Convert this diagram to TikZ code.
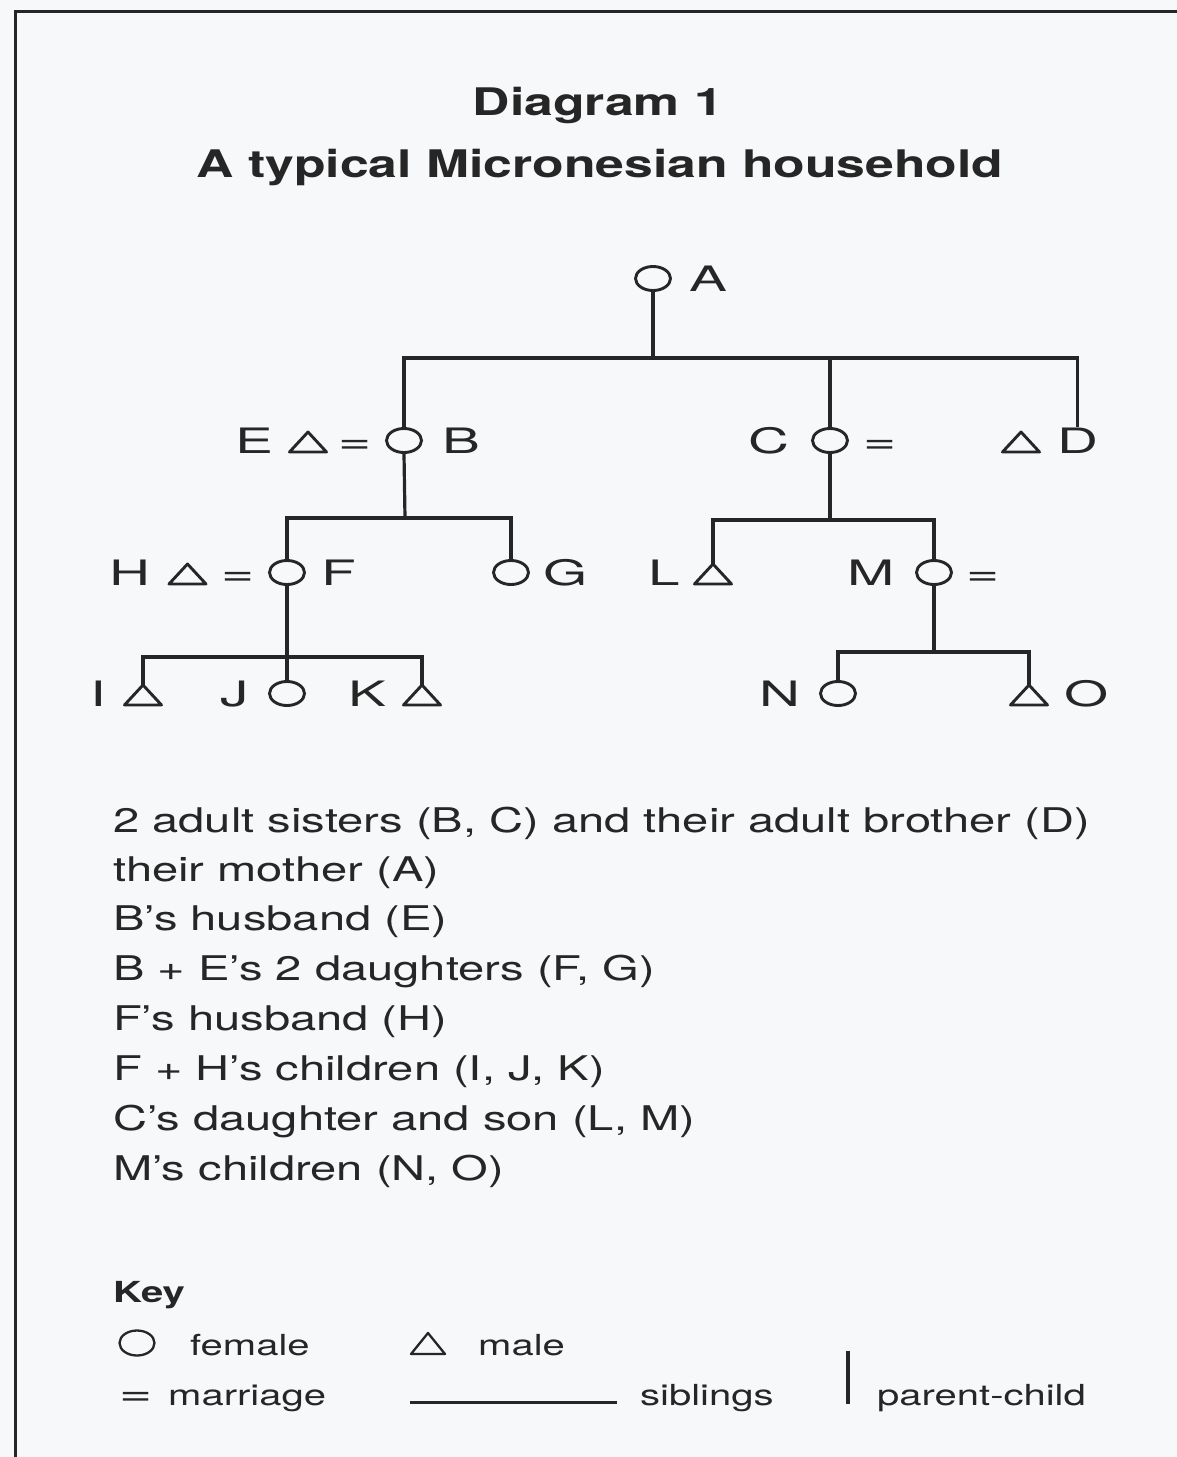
\documentclass[tikz,border=0pt]{standalone}
\usepackage{fontspec}
\setmainfont{TeX Gyre Heros}
\newfontfamily\treefont[FakeStretch=1.62]{TeX Gyre Heros}
\newfontfamily\bodyfont[FakeStretch=1.385]{TeX Gyre Heros}
\newfontfamily\headfont[FakeStretch=1.36]{TeX Gyre Heros}
\newfontfamily\keyfont[FakeStretch=1.38]{TeX Gyre Heros}
\usetikzlibrary{shapes.geometric}

\definecolor{ink}{RGB}{38,38,38}
\definecolor{paper}{RGB}{247,248,250}

\tikzset{
  kin/.style={line width=3.2pt, draw=ink},
  fem/.style={ellipse, draw=ink, line width=2.9pt, minimum width=35pt,
    minimum height=24pt, inner sep=0pt},
  male/.pic={
    \draw[ink, line width=2.9pt, line join=round] (-18.5,9.5) -- (0,-10.5) -- (18.5,9.5) -- cycle;
    \coordinate (-top) at (0,-10.5);
  },
  keyfem/.style={ellipse, draw=ink, line width=2.3pt, minimum width=35pt,
    minimum height=25pt, inner sep=0pt},
  keymale/.pic={
    \draw[ink, line width=2.3pt, line join=round] (-17,10) -- (0,-11) -- (17,10) -- cycle;
    \coordinate (-top) at (0,-11);
  },
  tlab/.style={font=\treefont\fontsize{35}{35}\selectfont, text=ink,
    inner sep=0pt, anchor=base},
  body/.style={font=\bodyfont\fontsize{34}{40}\selectfont, text=ink,
    inner sep=0pt, anchor=base west},
  head/.style={font=\headfont\bfseries\fontsize{38}{44}\selectfont, text=ink,
    inner sep=0pt, anchor=base},
  keytext/.style={font=\keyfont\fontsize{29}{34}\selectfont, text=ink,
    inner sep=0pt, anchor=base west},
}

\begin{document}
\begin{tikzpicture}[x=1pt,y=-1pt]
\useasboundingbox (0,0) rectangle (1177,1457);
\fill[paper] (0,0) rectangle (1177,1457);
% page frame
\draw[line width=3pt, ink] (15,1460) -- (15,11) -- (1180,11);

% headings
\node[head] (t1) at (598,115) {Diagram 1};
\node[head] (t2) at (600,177) {A typical Micronesian household};

% first generation
\node[fem] (A) at (653,278.5) {};
\node[tlab] (lA) at (708,291) {A};

% second generation
\node[tlab] (lE) at (254.5,453) {E};
\pic (E) at (308,442.5) {male};
\node[tlab] (mEB) at (355.5,453) {=};
\node[fem] (B) at (404,440.5) {};
\node[tlab] (lB) at (461,453) {B};
\node[tlab] (lC) at (768.5,453) {C};
\node[fem] (C) at (830,440.5) {};
\node[tlab] (mC) at (880,453) {=};
\pic (D) at (1021,442.5) {male};
\node[tlab] (lD) at (1077.5,453) {D};

% third generation
\node[tlab] (lH) at (129.5,585) {H};
\pic (H) at (187.5,574.5) {male};
\node[tlab] (mHF) at (238,585) {=};
\node[fem] (F) at (287,572.5) {};
\node[tlab] (lF) at (339,585) {F};
\node[fem] (G) at (511,572.5) {};
\node[tlab] (lG) at (566,585) {G};
\node[tlab] (lL) at (664.5,585) {L};
\pic (L) at (713,574.5) {male};
\node[tlab] (lM) at (871,585) {M};
\node[fem] (M) at (934,572.5) {};
\node[tlab] (mM) at (983.5,585) {=};

% fourth generation
\node[tlab] (lI) at (98.5,706) {I};
\pic (I) at (143,695.5) {male};
\node[tlab] (lJ) at (234.5,706) {J};
\node[fem] (J) at (287,693.5) {};
\node[tlab] (lK) at (367,706) {K};
\pic (K) at (422,695.5) {male};
\node[tlab] (lN) at (780,706) {N};
\node[fem] (N) at (838,693.5) {};
\pic (O) at (1029,695.5) {male};
\node[tlab] (lO) at (1087,706) {O};

% sibling bars
\coordinate (barA) at (653,358);
\coordinate (barB) at (405,518);
\coordinate (barC) at (830,520);
\coordinate (barF) at (287,657);
\coordinate (barM) at (934,652);

% A's children: B, C, D
\draw[kin] (A.south) -- (A.south |- barA);
\draw[kin] (B.north) |- (lD.north |- barA) -- (lD.north);
\draw[kin] (C.north) -- (C.north |- barA);

% B's children: F, G
\draw[kin] (B.south) -- (barB);
\draw[kin] (F.north) |- (G.north |- barB) -- (G.north);

% C's children: L, M
\draw[kin] (C.south) -- (barC);
\draw[kin] (L-top) |- (M.north |- barC) -- (M.north);

% F's children: I, J, K
\draw[kin] (F.south) -- (barF);
\draw[kin] (I-top) |- (K-top |- barF) -- (K-top);
\draw[kin] (J.north) -- (J.north |- barF);

% M's children: N, O
\draw[kin] (M.south) -- (barM);
\draw[kin] (N.north) |- (O-top |- barM) -- (O-top);

% household members
\node[body] (d1) at (113,832) {2 adult sisters (B, C) and their adult brother (D)};
\node[body] (d2) at (113,881) {their mother (A)};
\node[body] (d3) at (113,930) {B’s husband (E)};
\node[body] (d4) at (113,980) {B + E’s 2 daughters (F, G)};
\node[body] (d5) at (113,1030) {F’s husband (H)};
\node[body] (d6) at (113,1080) {F + H’s children (I, J, K)};
\node[body] (d7) at (113,1130) {C’s daughter and son (L, M)};
\node[body] (d8) at (113,1180) {M’s children (N, O)};

% key
\node[keytext, font=\keyfont\bfseries\fontsize{29}{34}\selectfont] (key) at (113,1302) {Key};
\node[keyfem] (kf) at (137,1343) {};
\node[keytext] (kft) at (190,1355) {female};
\pic (km) at (428,1344) {keymale};
\node[keytext] (kmt) at (478,1355) {male};
\node[tlab] (keq) at (136,1405) {=};
\node[keytext] (keqt) at (168,1405) {marriage};
\coordinate (ks1) at (410,1402);
\coordinate (ks2) at (617,1402);
\draw[line width=3pt, ink] (ks1) -- (ks2);
\node[keytext] (kst) at (640,1405) {siblings};
\coordinate (kp1) at (848,1351);
\coordinate (kp2) at (848,1404);
\draw[line width=4pt, ink] (kp1) -- (kp2);
\node[keytext] (kpt) at (877,1405) {parent-child};
\end{tikzpicture}
\end{document}
